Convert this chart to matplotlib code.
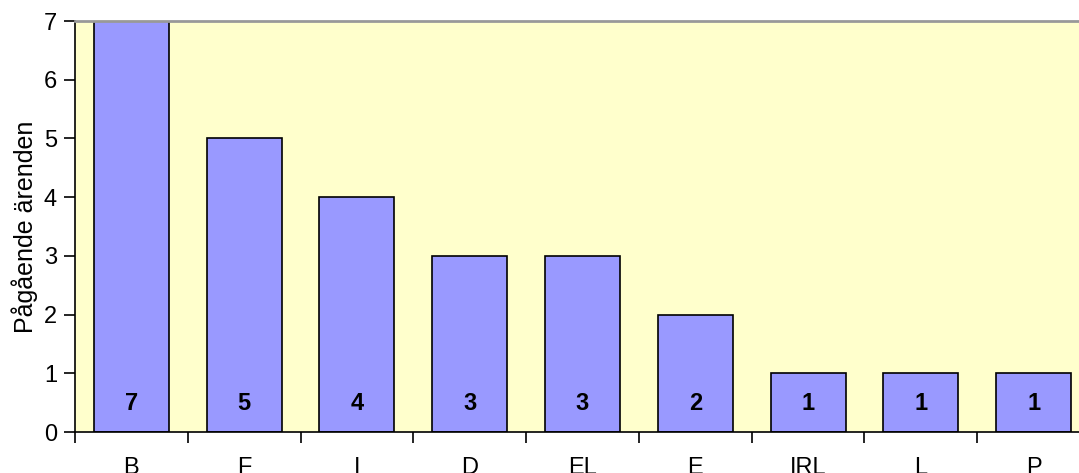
import numpy as np
import matplotlib.pyplot as plt
from matplotlib.ticker import FixedLocator

plt.rcParams['font.family'] = ['Liberation Sans', 'DejaVu Sans']

categories = ['B', 'F', 'I', 'D', 'EL', 'E', 'IRL', 'L', 'P']
values = [7, 5, 4, 3, 3, 2, 1, 1, 1]

fig = plt.figure(figsize=(10.79, 4.73), dpi=100)
# plot area runs slightly past the right edge of the picture
ax = fig.add_axes([75 / 1079, 41 / 473, 1015 / 1079, 411 / 473])
ax.set_facecolor('#FFFFCC')

x = np.arange(len(categories))
ax.bar(x, values, width=0.665, color='#9999FF', edgecolor='black', linewidth=1.2, zorder=2)

for xi, v in zip(x, values):
    ax.text(xi, 0.48, str(v), ha='center', va='center', fontsize=17, fontweight='bold', zorder=3)

ax.set_xlim(-0.5, len(categories) - 0.5)
ax.set_ylim(0, 7)
ax.set_yticks(range(0, 8))
ax.tick_params(axis='y', labelsize=17, length=8, width=1.2, pad=5)

ax.set_xticks(x)
ax.set_xticklabels(categories)
ax.xaxis.set_minor_locator(FixedLocator(np.arange(len(categories) + 1) - 0.5))
ax.tick_params(axis='x', which='major', length=0, labelsize=17, pad=18)
ax.tick_params(axis='x', which='minor', length=8, width=1.2)

ax.set_ylabel('Pågående ärenden', fontsize=18, labelpad=4)

ax.spines['top'].set_color('#999999')
ax.spines['top'].set_linewidth(2)
ax.spines['right'].set_visible(False)
ax.spines['left'].set_linewidth(1.2)
ax.spines['bottom'].set_linewidth(1.2)

fig.savefig('out.png', dpi=100)
